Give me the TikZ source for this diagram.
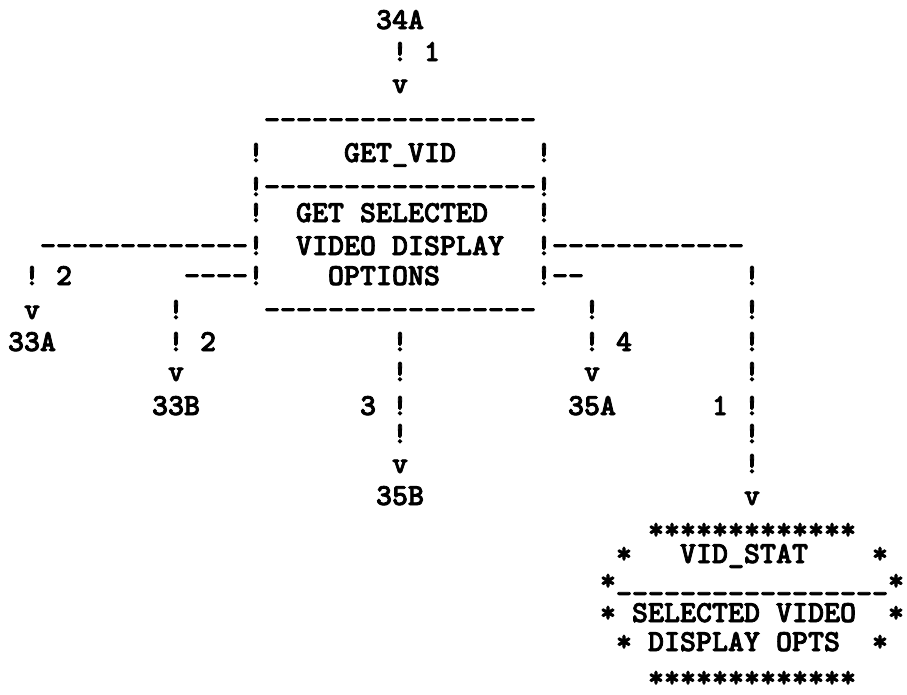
\documentclass[tikz,border=0pt]{standalone}
\usepackage{fontspec}
\setmonofont{lmmonolt10-bold.otf}[FakeBold=2.6]
\begin{document}
\begin{tikzpicture}[x=1pt,y=-1pt,
  asc/.style={anchor=base west, inner sep=0pt, outer sep=0pt,
    font=\ttfamily\fontsize{30.48pt}{32pt}\selectfont}]
\useasboundingbox (0,0) rectangle (907,694);
\foreach \c/\b/\t [count=\i] in {
  22/29/34A,
  23/61/!, 25/61/1,
  23/93/v,
  15/129/-----------------,
  14/162/!, 20/162/GET\_VID, 32/162/!,
  14/196/!-----------------!,
  14/222/!, 17/222/GET SELECTED, 32/222/!,
  1/255/-------------!, 17/255/VIDEO DISPLAY, 32/255/!------------,
  0/285/!, 2/285/2, 10/285/----!, 19/285/OPTIONS, 32/285/!--, 45/285/!,
  0/319/v, 9/319/!, 15/319/-----------------, 35/319/!, 45/319/!,
  -1/351/33A, 9/351/!, 11/351/2, 23/351/!, 35/351/!, 37/351/4, 45/351/!,
  9/381/v, 23/381/!, 35/381/v, 45/381/!,
  8/415/33B, 21/415/3, 23/415/!, 34/415/35A, 43/415/1, 45/415/!,
  23/443/!, 45/443/!,
  23/473/v, 45/473/!,
  22/505/35B, 45/505/v,
  39/539/*************,
  37/563/*, 41/563/VID\_STAT, 53/563/*,
  36/590/*\_\_\_\_\_\_\_\_\_\_\_\_\_\_\_\_\_*,
  36/622/*, 38/622/SELECTED VIDEO, 54/622/*,
  37/651/*, 39/651/DISPLAY OPTS, 53/651/*,
  39/687/*************}
{
  \node[asc] (t\i) at ({24+16*\c},\b) {\t};
}
\end{tikzpicture}
\end{document}
